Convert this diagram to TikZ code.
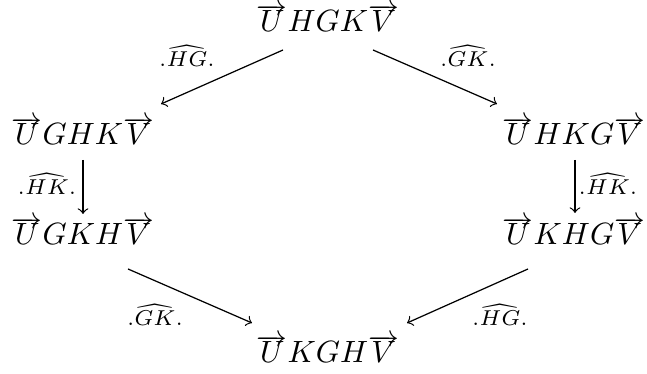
\documentclass[tikz,border=0pt]{standalone}
\usepackage{amsmath}
% a long arrow set close over its argument
\makeatletter
\newcommand\arrowover[1]{\vbox{\ialign{##\crcr
  \rightarrowfill\crcr
  \noalign{\nointerlineskip\kern-1.6pt}
  $\m@th\hfil#1\hfil$\crcr}}}
\makeatother
\newcommand\wU{\arrowover{U}}
\newcommand\wV{\arrowover{V}}
\begin{document}
\begin{tikzpicture}[x=0.325pt,y=-0.325pt,
  term/.style={inner sep=0pt,anchor=base},
  lbl/.style={inner sep=0pt,anchor=base,font=\scriptsize},
  arr/.style={->,line width=0.4pt}]
\useasboundingbox (0,0) rectangle (647,374);
% the six words, placed by their baselines
\node[term] (t)  at (328,32)  {$\wU HGK\wV$};
\node[term] (l1) at (83,145)  {$\wU GHK\wV$};
\node[term] (r1) at (574,145) {$\wU HKG\wV$};
\node[term] (l2) at (83,245)  {$\wU GKH\wV$};
\node[term] (r2) at (574,245) {$\wU KHG\wV$};
\node[term] (b)  at (328,363) {$\wU KGH\wV$};

% rewriting steps
\draw[arr] ([shift={(-45,18)}]t.base) -- ([shift={(78,-41)}]l1.base);
\draw[arr] ([shift={(45,18)}]t.base) -- ([shift={(-77,-41)}]r1.base);
\draw[arr] ([shift={(0,15)}]l1.base) -- ([shift={(0,-31)}]l2.base);
\draw[arr] ([shift={(1,15)}]r1.base) -- ([shift={(1,-32)}]r2.base);
\draw[arr] ([shift={(45,24)}]l2.base) -- ([shift={(-76,-40)}]b.base);
\draw[arr] ([shift={(-46,24)}]r2.base) -- ([shift={(79,-40)}]b.base);

% step labels
\node[lbl] (g1) at (187,67)  {$.\widehat{HG}.$};
\node[lbl] (g2) at (468,67)  {$.\widehat{GK}.$};
\node[lbl] (g3) at (47,195)  {$.\widehat{HK}.$};
\node[lbl] (g4) at (608,195) {$.\widehat{HK}.$};
\node[lbl] (g5) at (155,326) {$.\widehat{GK}.$};
\node[lbl] (g6) at (500,326) {$.\widehat{HG}.$};
\end{tikzpicture}
\end{document}
